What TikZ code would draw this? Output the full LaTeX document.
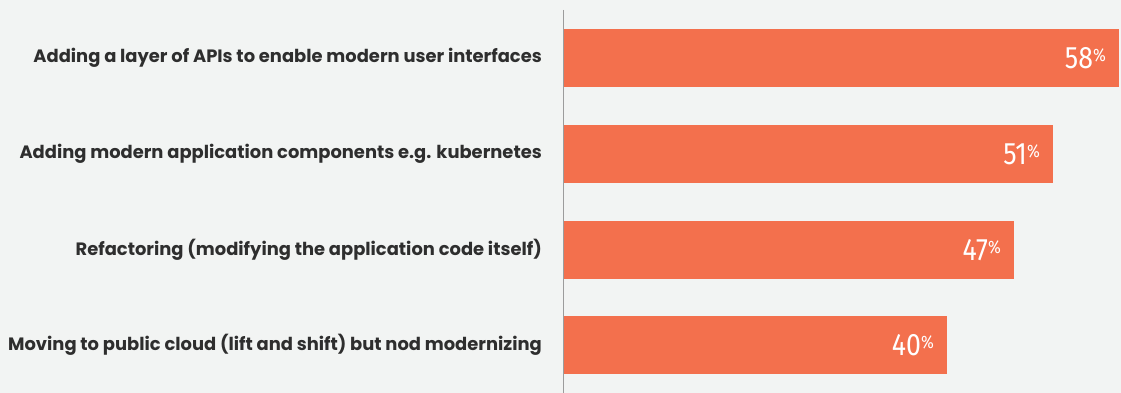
\documentclass[tikz,border=0pt]{standalone}
\usepackage{fontspec}
\setmainfont{Poppins}
\newfontfamily\numfont[FakeStretch=0.86]{Fira Sans}
\definecolor{bgcol}{HTML}{F2F4F3}
\definecolor{barcol}{HTML}{F3704D}
\definecolor{axiscol}{HTML}{9C9C9C}
\definecolor{txtcol}{HTML}{2E2E2E}
\newcommand{\pcval}[1]{#1{\fontsize{18}{18}\selectfont\raisebox{6.5pt}{\%}}}
\begin{document}
\begin{tikzpicture}[x=1pt, y=-1pt,
    bar/.style = {fill=barcol, draw=none, anchor=west, minimum height=57.5pt, inner sep=0pt, outer sep=0pt},
    lbl/.style = {anchor=east, inner sep=0pt, text=txtcol, font=\fontsize{17.9}{18}\selectfont\bfseries},
    pct/.style = {anchor=east, inner sep=0pt, text=white, font=\numfont\fontsize{31}{31}\selectfont}]
    \useasboundingbox[fill=bgcol] (0,0) rectangle (1121,393);

    \coordinate (axtop) at (563.5,10);
    \coordinate (axbot) at (563.5,393);
    \draw[axiscol, line width=1pt] (axtop) -- (axbot);

    \node[bar, minimum width=555pt] (bar1) at (564,58)  {};
    \node[bar, minimum width=489pt] (bar2) at (564,154) {};
    \node[bar, minimum width=450pt] (bar3) at (564,250) {};
    \node[bar, minimum width=383pt] (bar4) at (564,345) {};

    \node[pct] (pct1) at ([xshift=-13pt]bar1.east) {\pcval{58}};
    \node[pct] (pct2) at ([xshift=-13pt]bar2.east) {\pcval{51}};
    \node[pct] (pct3) at ([xshift=-13pt]bar3.east) {\pcval{47}};
    \node[pct] (pct4) at ([xshift=-13pt]bar4.east) {\pcval{40}};

    \node[lbl] (lbl1) at (542,58)  {Adding a layer of APIs to enable modern user interfaces};
    \node[lbl] (lbl2) at (542,154) {Adding modern application components e.g. kubernetes};
    \node[lbl] (lbl3) at (542,250) {Refactoring (modifying the application code itself)};
    \node[lbl] (lbl4) at (542,345) {Moving to public cloud (lift and shift) but nod modernizing};
\end{tikzpicture}
\end{document}
